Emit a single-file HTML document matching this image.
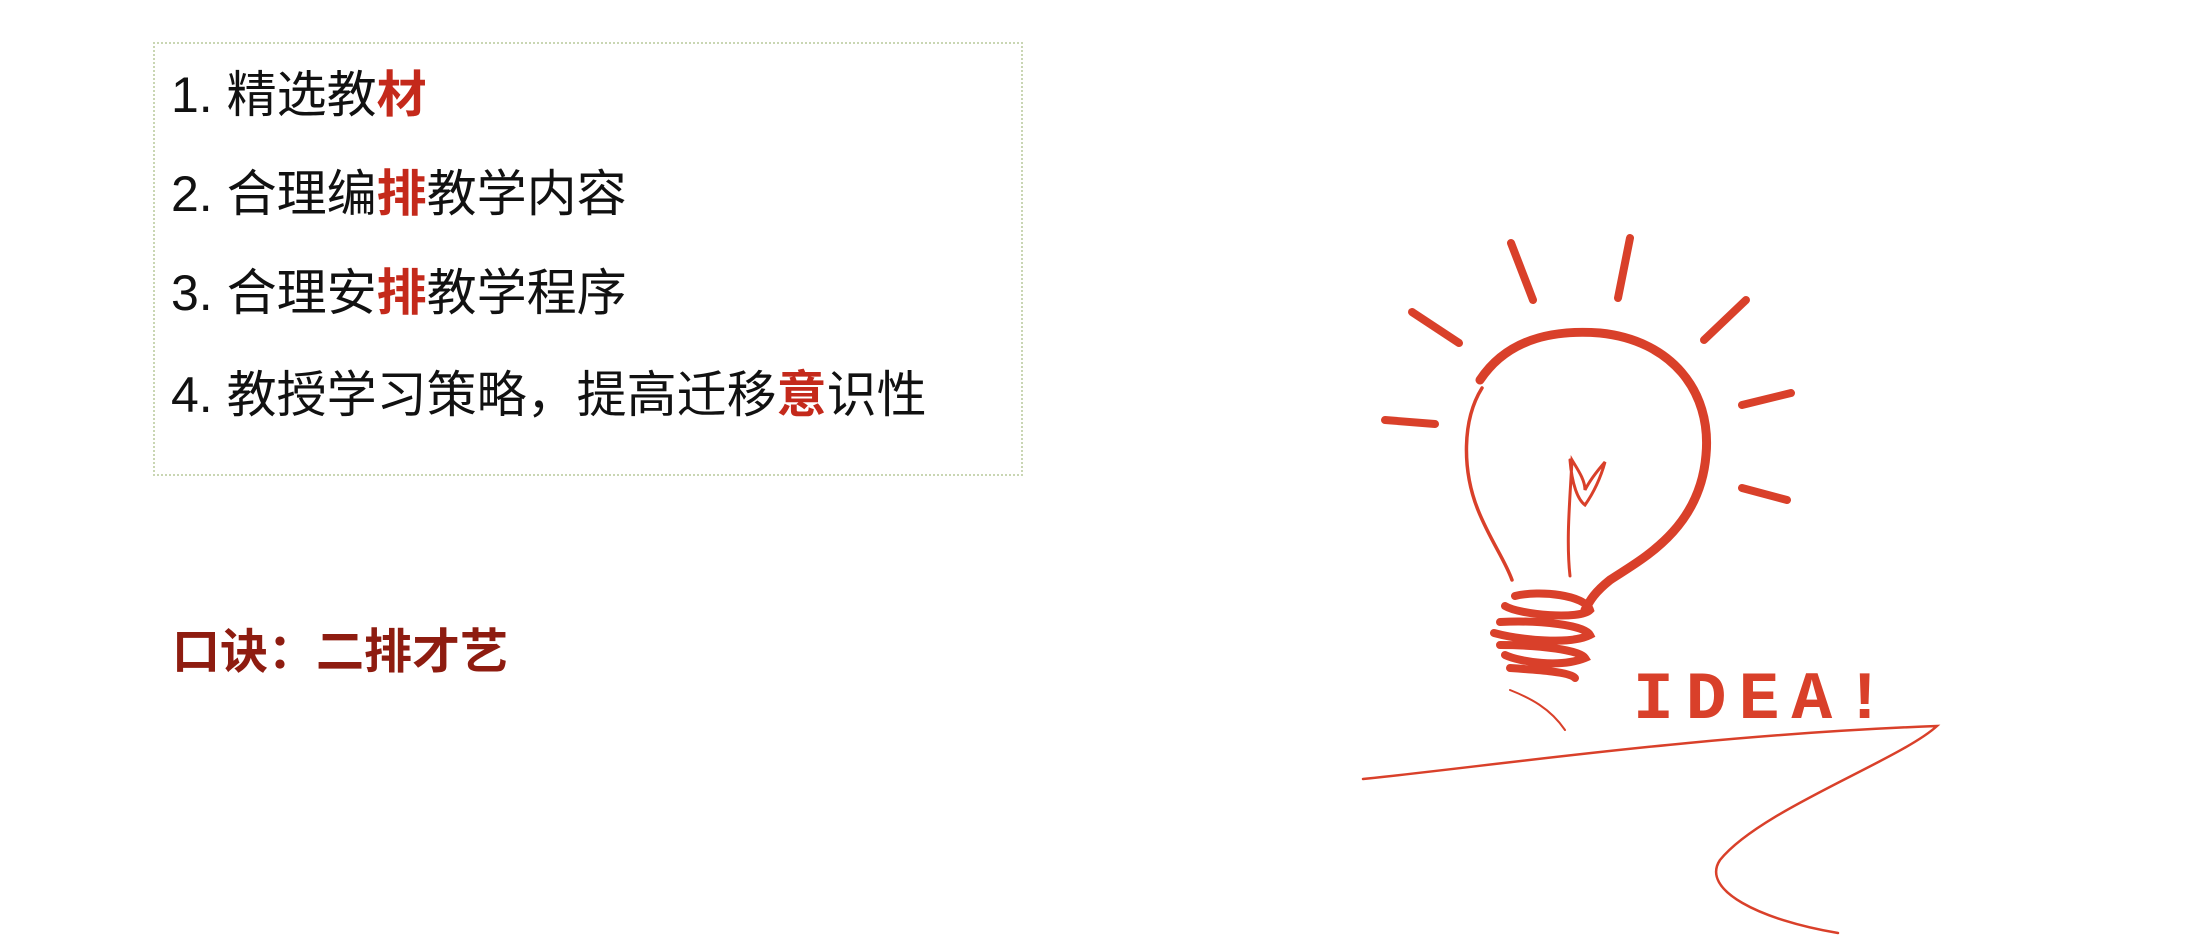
<!DOCTYPE html>
<html><head><meta charset="utf-8"><style>
html,body{margin:0;padding:0;background:#fff;}
body{width:2189px;height:943px;position:relative;overflow:hidden;font-family:"Liberation Sans","Noto Sans CJK SC",sans-serif;}
#box{position:absolute;left:153px;top:42px;width:866px;height:430px;border:2px dotted #c9d6b3;}
.ln{position:absolute;left:171px;font-size:50px;color:#111;white-space:nowrap;line-height:1;}
.r{color:#c4291b;font-weight:bold;}
#tip{position:absolute;left:172px;top:629px;font-size:48px;font-weight:bold;color:#8e1c10;white-space:nowrap;line-height:1;}
svg{position:absolute;left:0;top:0;}
</style></head><body>
<div id="box"></div>
<div class="ln" style="top:70px">1. 精选教<span class="r">材</span></div>
<div class="ln" style="top:169px">2. 合理编<span class="r">排</span>教学内容</div>
<div class="ln" style="top:268px">3. 合理安<span class="r">排</span>教学程序</div>
<div class="ln" style="top:370px">4. 教授学习策略，提高迁移<span class="r">意</span>识性</div>
<div id="tip">口诀：二排才艺</div>
<svg width="2189" height="943">
<g stroke="#d9402a" stroke-linecap="round" fill="none">
<g stroke-width="8">
<line x1="1511" y1="243" x2="1533" y2="300"/>
<line x1="1630" y1="238" x2="1618" y2="298"/>
<line x1="1412" y1="312" x2="1459" y2="343"/>
<line x1="1746" y1="300" x2="1704" y2="340"/>
<line x1="1385" y1="420" x2="1435" y2="424"/>
<line x1="1742" y1="405" x2="1791" y2="393"/>
<line x1="1742" y1="488" x2="1787" y2="500"/>
</g>
<path d="M1480,380 C1510,335 1560,330 1600,333 C1670,340 1712,390 1706,455 C1700,530 1640,560 1610,580 C1595,592 1590,600 1585,610" stroke-width="9"/>
<path d="M1482,388 C1462,420 1462,470 1478,510 C1490,540 1505,560 1512,580" stroke-width="3.5"/>
<path d="M1570,576 C1566,540 1570,500 1572,460 C1578,470 1585,480 1585,490 C1590,480 1598,470 1605,462 C1600,480 1592,495 1585,505 C1578,500 1572,485 1570,460" stroke-width="3"/>
<path d="M1515,596 C1540,590 1585,595 1590,610 C1580,620 1520,615 1505,606 M1500,622 C1540,620 1585,625 1590,635 C1570,645 1520,640 1494,633 M1500,645 C1540,645 1580,650 1585,658 C1560,668 1520,662 1505,655 M1510,668 C1540,670 1570,672 1575,678" stroke-width="8"/>
<path d="M1510,690 C1530,698 1550,708 1565,730" stroke-width="2"/>
<path d="M1363,779 C1500,765 1700,735 1937,726 C1900,760 1760,810 1720,860 C1700,890 1760,920 1838,933" stroke-width="2.5"/>
</g>
<text x="1633" y="718" font-family="Liberation Mono, monospace" font-weight="bold" font-size="68" fill="#d9402a" letter-spacing="12">IDEA!</text>
</svg>
</body></html>
